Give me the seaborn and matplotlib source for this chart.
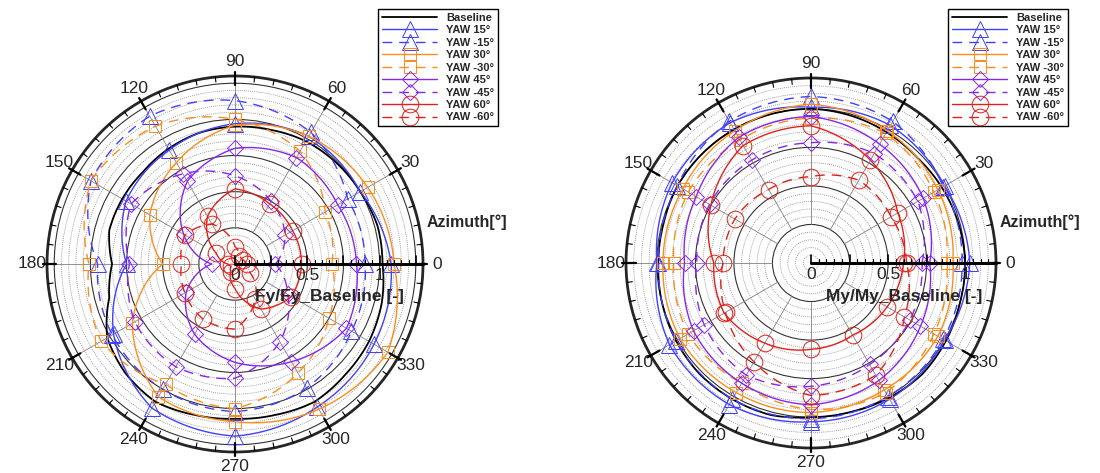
import numpy as np
import seaborn as sns
import matplotlib.pyplot as plt
from matplotlib.lines import Line2D
from matplotlib.patches import Circle

# azimuth positions [deg]
azimuth = np.arange(0, 360, 30)
azimuth_fine = np.arange(0, 360, 15)
angle_labels = [str(a) for a in azimuth]
series_labels = ["YAW 15°", "YAW -15°", "YAW 30°", "YAW -30°",
                 "YAW 45°", "YAW -45°", "YAW 60°", "YAW -60°"]

# Fy / Fy_Baseline
fy_baseline = [1.02, 1.02, 1.00, 0.99, 0.98, 0.96, 0.95, 0.94, 0.92, 0.90, 0.90, 0.90,
               0.85, 0.90, 1.02, 1.07, 1.10, 1.08, 1.07, 1.08, 1.10, 1.08, 1.07, 1.05]
fy_yaw15 = [1.08, 1.00, 1.02, 0.97, 0.91, 0.87, 0.75, 0.97, 1.15, 1.19, 1.14, 1.11]
fy_yawm15 = [0.90, 0.90, 1.05, 1.13, 1.18, 1.15, 0.95, 0.98, 1.00, 1.02, 0.99, 0.93]
fy_yaw30 = [1.10, 1.06, 1.02, 0.96, 0.81, 0.68, 0.50, 0.82, 1.06, 1.09, 1.16, 1.22]
fy_yawm30 = [0.67, 0.72, 0.90, 1.00, 1.10, 1.15, 1.01, 1.07, 0.96, 1.00, 0.87, 0.75]
fy_yaw45 = [0.84, 0.82, 0.85, 0.80, 0.66, 0.41, 0.16, 0.39, 0.56, 0.68, 0.78, 0.89]
fy_yawm45 = [0.28, 0.40, 0.50, 0.61, 0.72, 0.83, 0.73, 0.80, 0.82, 0.79, 0.62, 0.42]
fy_yaw60 = [0.46, 0.46, 0.48, 0.52, 0.38, 0.15, 0.05, 0.03, 0.06, 0.17, 0.36, 0.45]
fy_yawm60 = [0.08, 0.06, 0.06, 0.12, 0.32, 0.40, 0.37, 0.40, 0.44, 0.45, 0.28, 0.12]

# My / My_Baseline
my_baseline = [1.00, 0.99, 0.98, 0.97, 0.98, 0.99, 1.00, 1.00, 1.00, 1.00, 1.00, 0.99,
               0.99, 1.00, 1.01, 1.02, 1.02, 1.02, 1.00, 1.00, 1.01, 1.02, 1.01, 1.00]
my_yaw15 = [1.03, 1.00, 1.03, 1.01, 1.05, 1.04, 1.00, 1.06, 1.06, 1.03, 1.02, 1.00]
my_yawm15 = [0.98, 0.99, 1.06, 1.08, 1.06, 1.00, 0.99, 1.01, 1.02, 1.01, 1.00, 0.99]
my_yaw30 = [0.92, 0.95, 0.99, 1.03, 0.99, 0.96, 0.96, 0.98, 0.97, 0.97, 0.95, 0.95]
my_yawm30 = [0.88, 0.92, 0.97, 0.94, 0.92, 0.92, 0.89, 0.92, 0.90, 0.95, 0.97, 0.92]
my_yaw45 = [0.77, 0.84, 0.89, 0.95, 0.94, 0.86, 0.82, 0.88, 0.90, 0.92, 0.88, 0.82]
my_yawm45 = [0.72, 0.80, 0.82, 0.78, 0.77, 0.76, 0.74, 0.80, 0.84, 0.80, 0.76, 0.74]
my_yaw60 = [0.60, 0.65, 0.77, 0.89, 0.88, 0.75, 0.63, 0.65, 0.60, 0.56, 0.54, 0.57]
my_yawm60 = [0.62, 0.60, 0.62, 0.56, 0.55, 0.57, 0.57, 0.64, 0.74, 0.86, 0.84, 0.70]

sns.set_style("white")
plt.rcParams['font.family'] = ['Liberation Sans', 'DejaVu Sans']

blue, orange, purple, red = '#4040ff', '#ff8c1a', '#8526f0', '#e0201a'
dash = (0, (7, 5))
# color, linestyle, marker, markersize
styles = [(blue, '-', '^', 11), (blue, dash, '^', 11),
          (orange, '-', 's', 9), (orange, dash, 's', 9),
          (purple, '-', 'D', 8.5), (purple, dash, 'D', 8.5),
          (red, '-', 'o', 12), (red, dash, 'o', 12)]


def closed(theta_deg, r):
    t = np.deg2rad(np.append(theta_deg, 360))
    return t, np.append(r, r[0])


def panel(fig, rect, rmax, baseline, series, rlabel, rlabel_xy, azi_xy):
    # grid underneath
    g = fig.add_axes(rect, zorder=0)
    g.set_xlim(-rmax, rmax)
    g.set_ylim(-rmax, rmax)
    g.axis('off')
    for r in np.arange(0.05, rmax - 1e-6, 0.05):
        major = abs(r / 0.25 - round(r / 0.25)) < 1e-6
        g.add_patch(Circle((0, 0), r, fill=False,
                           ec='0.2' if major else '0.5',
                           lw=0.8 if major else 0.6,
                           ls='-' if major else (0, (1, 1.5))))
    for a in np.deg2rad(azimuth):
        g.plot([0.25 * np.cos(a), rmax * np.cos(a)],
               [0.25 * np.sin(a), rmax * np.sin(a)], color='0.5', lw=0.6)

    ax = fig.add_axes(rect, projection='polar', zorder=1)
    ax.patch.set_alpha(0)
    t, r = closed(azimuth_fine, baseline)
    sns.lineplot(x=t, y=r, ax=ax, sort=False, estimator=None,
                 color='black', linewidth=1.3)
    for vals, (c, ls, m, ms) in zip(series, styles):
        t, r = closed(azimuth, vals)
        sns.lineplot(x=t, y=r, ax=ax, sort=False, estimator=None,
                     color=c, linestyle=ls, linewidth=1.0, marker=m,
                     markersize=ms, markerfacecolor='none', markeredgecolor=c,
                     markeredgewidth=0.7, markevery=slice(0, len(vals)))
    for ln in ax.lines:
        ln.get_path()._interpolation_steps = 24
    ax.set_ylim(0, rmax)
    ax.set_yticks([])
    ax.set_thetagrids(azimuth, labels=angle_labels, fontsize=12.5)
    ax.tick_params(axis='x', pad=0)
    ax.grid(False)
    ax.set_xlabel('')
    ax.set_ylabel('')
    ax.spines['polar'].set_linewidth(2.0)

    # radial axis and outer ring ticks on top
    top = fig.add_axes(rect, zorder=2)
    top.set_xlim(-rmax, rmax)
    top.set_ylim(-rmax, rmax)
    top.axis('off')
    top.plot([0, rmax], [0, 0], color='k', lw=2.2, clip_on=False)
    for rr in np.arange(0, rmax + 1e-6, 0.05):
        major = abs(rr / 0.25 - round(rr / 0.25)) < 1e-6
        top.plot([rr, rr], [0, 0.055 if major else 0.025], color='k',
                 lw=1.2 if major else 0.8)
    for rr, txt in [(0, '0'), (0.5, '0.5'), (1.0, '1')]:
        top.text(rr, -0.025, txt, ha='center', va='top', fontsize=12.5)
    for a in range(0, 360, 6):
        ar = np.deg2rad(a)
        if a % 30 == 0:
            r0, r1, lw = rmax - 0.065, rmax + 0.025, 1.6
        else:
            r0, r1, lw = rmax - 0.035, rmax, 0.8
        top.plot([r0 * np.cos(ar), r1 * np.cos(ar)],
                 [r0 * np.sin(ar), r1 * np.sin(ar)], color='k', lw=lw,
                 clip_on=False)

    fig.text(*rlabel_xy, rlabel, ha='center', va='center',
             fontsize=12.5, fontweight='bold')
    fig.text(*azi_xy, 'Azimuth[°]', ha='left', va='center',
             fontsize=11.5, fontweight='bold')
    return ax


fig = plt.figure(figsize=(11, 4.73), dpi=100)

panel(fig, [47 / 1100, 21 / 473, 376 / 1100, 376 / 473], 1.3, fy_baseline,
      [fy_yaw15, fy_yawm15, fy_yaw30, fy_yawm30, fy_yaw45, fy_yawm45, fy_yaw60, fy_yawm60],
      'Fy/Fy_Baseline [-]', (329.5 / 1100, 1 - 297 / 473), (427 / 1100, 1 - 222 / 473))
panel(fig, [626 / 1100, 25 / 473, 370 / 1100, 370 / 473], 1.2, my_baseline,
      [my_yaw15, my_yawm15, my_yaw30, my_yawm30, my_yaw45, my_yawm45, my_yaw60, my_yawm60],
      'My/My_Baseline [-]', (904 / 1100, 1 - 296 / 473), (1000 / 1100, 1 - 222 / 473))

handles = [Line2D([], [], color='black', lw=1.3)]
for c, ls, m, ms in styles:
    handles.append(Line2D([], [], color=c, ls=ls, lw=1.0, marker=m, markersize=ms,
                          markerfacecolor='none', markeredgecolor=c, markeredgewidth=0.7))
labels = ['Baseline'] + series_labels
for lx in [378 / 1100, 948 / 1100]:
    fig.legend(handles, labels, loc='upper left', bbox_to_anchor=(lx, 1 - 9 / 473),
               frameon=True, fancybox=False, edgecolor='k', framealpha=1,
               prop={'weight': 'bold', 'size': 8}, handlelength=5.0,
               handletextpad=0.8, labelspacing=0.22, borderpad=0.35,
               borderaxespad=0, numpoints=1)

fig.savefig('out.png', dpi=100)
